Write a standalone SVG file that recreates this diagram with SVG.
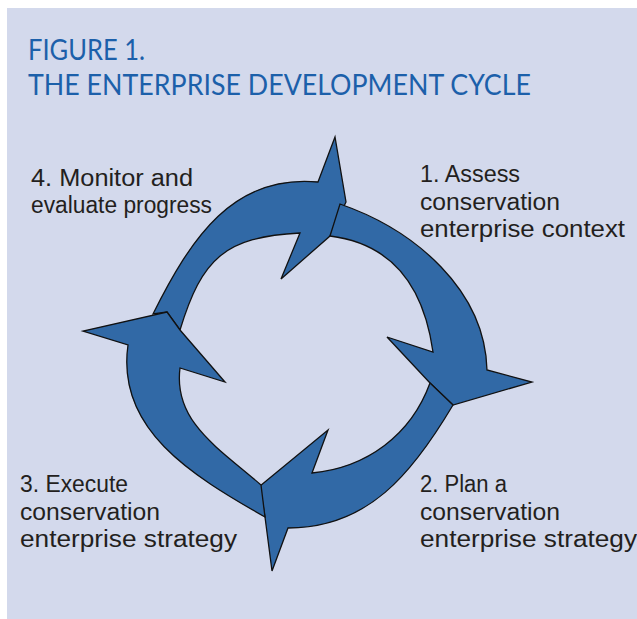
<svg xmlns="http://www.w3.org/2000/svg" width="637" height="619" viewBox="0 0 637 619">
  <style>
    .panel { fill: #d3d9ec; }
    .title { font-family: Lato, "Liberation Sans", sans-serif; font-size: 28.5px; fill: #1c60aa; }
    .label { font-family: "Liberation Sans", Arial, sans-serif; font-size: 23.5px; fill: #231f20; }
    .arrow { fill: #3169a6; stroke: #111; stroke-width: 1.3; stroke-linejoin: miter; }
  </style>

  <rect x="0" y="0" width="637" height="619" fill="#ffffff"/>
  <rect class="panel" x="7" y="8" width="630" height="611"/>

  <g id="title">
    <text class="title" x="28" y="60" textLength="117" lengthAdjust="spacingAndGlyphs">FIGURE 1.</text>
    <text class="title" x="28" y="95" textLength="503" lengthAdjust="spacingAndGlyphs">THE ENTERPRISE DEVELOPMENT CYCLE</text>
  </g>

  <!-- cycle arrows, drawn clockwise: each tail sits against the previous head -->
  <g id="connectors">
    <path id="arrow-4-1" class="arrow" d="M153,314 C191,238 233,174 318,182 L335,137 L346,202 L330,236 L281,279 L300,233 C225,237 202,258 180,330 L167,312 Z"/>
    <path id="arrow-1-2" class="arrow" d="M340,204 C415,230 485,290 487,370 L532,382 L453,405 L430,383 L387,337 L433,352 C424,288 394,244 330,236 Z"/>
    <path id="arrow-2-3" class="arrow" d="M453,405 L430,383 C411,435 367,467.5 312,473 L328,430 L260,486 L265,517 L272,571 L288,528 C368,528 412,474 453,405 Z"/>
    <path id="arrow-3-4" class="arrow" d="M265,517 C191,475 116,429 128,345 L83,331 L167,312 L180,330 L225,382 L180,368 C173,422 220,449 261,485 Z"/>
  </g>

  <g id="step-1">
    <text class="label" x="420" y="182" textLength="100" lengthAdjust="spacingAndGlyphs">1. Assess</text>
    <text class="label" x="420" y="209.5" textLength="140" lengthAdjust="spacingAndGlyphs">conservation</text>
    <text class="label" x="420" y="237" textLength="205" lengthAdjust="spacingAndGlyphs">enterprise context</text>
  </g>

  <g id="step-2">
    <text class="label" x="420" y="492" textLength="87" lengthAdjust="spacingAndGlyphs">2. Plan a</text>
    <text class="label" x="420" y="519.5" textLength="140" lengthAdjust="spacingAndGlyphs">conservation</text>
    <text class="label" x="420" y="547" textLength="217" lengthAdjust="spacingAndGlyphs">enterprise strategy</text>
  </g>

  <g id="step-3">
    <text class="label" x="20" y="492" textLength="108" lengthAdjust="spacingAndGlyphs">3. Execute</text>
    <text class="label" x="20" y="519.5" textLength="140" lengthAdjust="spacingAndGlyphs">conservation</text>
    <text class="label" x="20" y="547" textLength="217" lengthAdjust="spacingAndGlyphs">enterprise strategy</text>
  </g>

  <g id="step-4">
    <text class="label" x="31" y="186" textLength="162" lengthAdjust="spacingAndGlyphs">4. Monitor and</text>
    <text class="label" x="31" y="212.5" textLength="181" lengthAdjust="spacingAndGlyphs">evaluate progress</text>
  </g>
</svg>
